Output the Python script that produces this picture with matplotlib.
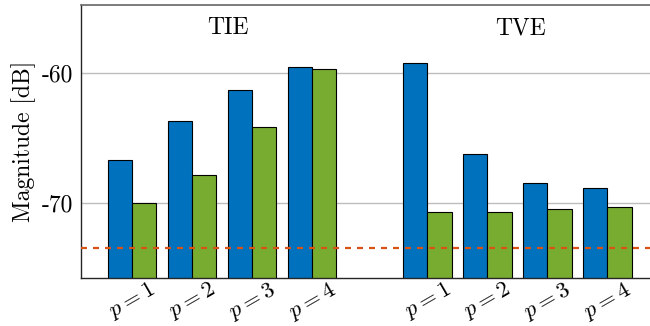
import matplotlib
matplotlib.use("Agg")
import matplotlib.pyplot as plt
import numpy as np

plt.rcParams["font.family"] = ["cmr10", "DejaVu Serif"]
plt.rcParams["mathtext.fontset"] = "cm"
plt.rcParams["axes.formatter.use_mathtext"] = True

# Values (dB)
groups = ["TIE", "TVE"]
orders = ["$p=1$", "$p=2$", "$p=3$", "$p=4$"]
tie_blue = [-66.7, -63.7, -61.3, -59.55]
tie_green = [-70.0, -67.9, -64.15, -59.7]
tve_blue = [-59.2, -66.25, -68.5, -68.85]
tve_green = [-70.7, -70.7, -70.45, -70.3]
threshold = -73.5

blue = "#0072BD"
green = "#77AC30"
red = "#D95319"

fig = plt.figure(figsize=(6.5, 3.26), dpi=100)
ax = fig.add_axes([0.1246, 0.1463, 0.8754, 0.8384])

x_tie = np.arange(4)
x_tve = np.arange(4) + 4.92
w = 0.405

ax.bar(x_tie - w / 2, np.array(tie_blue) + 100, w, bottom=-100, color=blue,
       edgecolor="black", linewidth=0.8, zorder=2)
ax.bar(x_tie + w / 2, np.array(tie_green) + 100, w, bottom=-100, color=green,
       edgecolor="black", linewidth=0.8, zorder=2)
ax.bar(x_tve - w / 2, np.array(tve_blue) + 100, w, bottom=-100, color=blue,
       edgecolor="black", linewidth=0.8, zorder=2)
ax.bar(x_tve + w / 2, np.array(tve_green) + 100, w, bottom=-100, color=green,
       edgecolor="black", linewidth=0.8, zorder=2)

ax.axhline(threshold, color=red, linewidth=1.6, dashes=(2.7, 2.7), zorder=3)

ax.set_xlim(-0.85, 8.63)
ax.set_ylim(-75.83, -54.75)

ax.set_yticks([-60, -70])
ax.set_yticklabels(["-60", "-70"], fontsize=17)
ax.set_xticks(np.concatenate([x_tie, x_tve]))
ax.set_xticklabels(orders + orders, rotation=30, fontsize=16.5)
ax.tick_params(length=0)
ax.tick_params(axis="y", pad=5.5)
ax.tick_params(axis="x", pad=0)

ax.yaxis.grid(True, color="#bdbdbd", linewidth=1.0, zorder=0)
ax.set_axisbelow(True)

ax.spines["right"].set_visible(False)
for s in ["left", "bottom"]:
    ax.spines[s].set_color("#262626")
    ax.spines[s].set_linewidth(1.0)
ax.spines["top"].set_color("#666666")
ax.spines["top"].set_linewidth(1.2)

ax.text(1.59, -57.0, groups[0], ha="center", va="baseline", fontsize=17)
ax.text(6.47, -57.0, groups[1], ha="center", va="baseline", fontsize=17)

ax.set_ylabel("Magnitude [dB]", fontsize=17, labelpad=4)

fig.savefig("out.png", dpi=100)
